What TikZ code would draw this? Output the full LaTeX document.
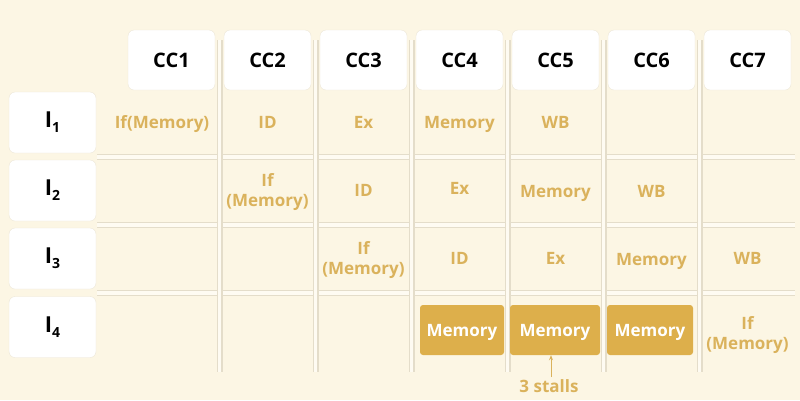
\documentclass[tikz,border=0pt]{standalone}
\usepackage{fontspec}
\setmainfont{Open Sans}
\usetikzlibrary{arrows.meta}
\definecolor{bg}{HTML}{FCF6E4}
\definecolor{gold}{HTML}{DAB25C}
\definecolor{goldbox}{HTML}{DDAF4B}
\definecolor{edge}{HTML}{E4DDCA}
\definecolor{inner}{HTML}{FEFBF2}
\definecolor{boxedge}{HTML}{EDE7D7}
\newcommand{\rowI}[1]{I\raisebox{-5pt}{\fontsize{14}{14}\selectfont #1}}
\tikzset{
  hdr/.style={draw=boxedge, fill=white, rounded corners=6pt, minimum width=87pt, minimum height=60pt, inner sep=0pt, font=\fontsize{20}{24}\selectfont\bfseries, text=black},
  rowlab/.style={draw=boxedge, fill=white, rounded corners=6pt, minimum width=87pt, minimum height=61pt, inner sep=0pt, font=\fontsize{22}{26}\selectfont\bfseries, text=black},
  stage/.style={text=gold, font=\fontsize{17}{20}\selectfont\bfseries, align=center, inner sep=0pt},
  one/.style={stage, text height=12pt, text depth=0pt},
  stall/.style={fill=goldbox, rounded corners=3pt, minimum height=50pt, inner sep=0pt, text=white, font=\fontsize{17}{20}\selectfont\bfseries, text height=12pt, text depth=0pt},
  gridout/.style={draw=edge, line width=6pt},
  gridin/.style={draw=inner, line width=3.5pt},
}
\begin{document}
\begin{tikzpicture}[x=1pt,y=-1pt]
\fill[bg] (0,0) rectangle (800,400);
\useasboundingbox (0,0) rectangle (800,400);
% horizontal grid lines
\foreach \yy in {157,225,293}{
  \draw[gridout] (97,\yy) -- (795,\yy);
  \draw[gridin] (97,\yy) -- (795,\yy);
}
% vertical grid lines
\foreach \xx in {219.5,315.5,411.5,507.5,603.5,699.5}{
  \draw[gridout] (\xx,40) -- (\xx,372);
  \draw[gridin] (\xx,40) -- (\xx,372);
}
% headers
\node[hdr] (cc1) at (171.5,60) {CC1};
\node[hdr] (cc2) at (267.5,60) {CC2};
\node[hdr] (cc3) at (363.5,60) {CC3};
\node[hdr] (cc4) at (459.5,60) {CC4};
\node[hdr] (cc5) at (555.5,60) {CC5};
\node[hdr] (cc6) at (651.5,60) {CC6};
\node[hdr] (cc7) at (747.5,60) {CC7};
% row labels
\node[rowlab] (i1) at (52.5,122.5) {\rowI{1}};
\node[rowlab] (i2) at (52.5,190.5) {\rowI{2}};
\node[rowlab] (i3) at (52.5,258.5) {\rowI{3}};
\node[rowlab] (i4) at (52.5,327) {\rowI{4}};
% row 1
\node[one] (r1a) at (162,122) {If(Memory)};
\node[one] (r1b) at (267.5,122) {ID};
\node[one] (r1c) at (363.5,122) {Ex};
\node[one] (r1d) at (459.5,122) {Memory};
\node[one] (r1e) at (555.5,122) {WB};
% row 2
\node[stage] (r2a) at (267.5,192) {If\\(Memory)};
\node[one] (r2b) at (363.5,190) {ID};
\node[one] (r2c) at (459.5,188) {Ex};
\node[one] (r2d) at (555.5,191) {Memory};
\node[one] (r2e) at (651.5,191) {WB};
% row 3
\node[stage] (r3a) at (363.5,260) {If\\(Memory)};
\node[one] (r3b) at (459.5,258) {ID};
\node[one] (r3c) at (555.5,258) {Ex};
\node[one] (r3d) at (651.5,259) {Memory};
\node[one] (r3e) at (747.5,258) {WB};
% row 4
\node[stall, minimum width=84pt] (m4) at (462,330) {Memory};
\node[stall, minimum width=90pt] (m5) at (555,330) {Memory};
\node[stall, minimum width=86pt] (m6) at (650,330) {Memory};
\node[stage] (r4e) at (747.5,335) {If\\(Memory)};
% stalls note
\node[one] (st) at (549,386) {3 stalls};
\coordinate (stb) at (551,377);
\draw[gold, line width=0.9pt, -{Stealth[length=5pt,width=4pt]}] (stb) -- (m5.south -| stb);
\end{tikzpicture}
\end{document}
